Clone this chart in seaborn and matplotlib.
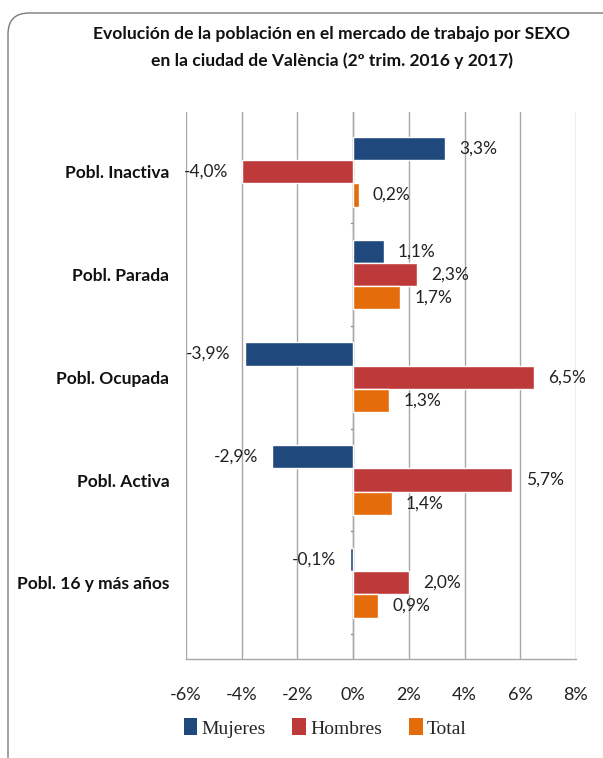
import matplotlib
matplotlib.use("Agg")
import matplotlib.pyplot as plt
import seaborn as sns
import pandas as pd
from matplotlib.patches import FancyBboxPatch, Patch

categories = ["Pobl. Inactiva", "Pobl. Parada", "Pobl. Ocupada", "Pobl. Activa", "Pobl. 16 y más años"]
series = ["Mujeres", "Hombres", "Total"]
mujeres = [3.3, 1.1, -3.9, -2.9, -0.1]
hombres = [-4.0, 2.3, 6.5, 5.7, 2.0]
total = [0.2, 1.7, 1.3, 1.4, 0.9]
xticks = [-6, -4, -2, 0, 2, 4, 6, 8]
colors = ["#1F497D", "#BE3A3A", "#E46C0A"]
title = "Evolución de la población en el mercado de trabajo por SEXO\nen la ciudad de València (2º trim. 2016 y 2017)"

rows = []
for name, vals in zip(series, [mujeres, hombres, total]):
    for c, v in zip(categories, vals):
        rows.append({"Categoria": c, "Serie": name, "Valor": v})
df = pd.DataFrame(rows)

sns.set_theme(style="white")
plt.rcParams["font.family"] = ["Lato", "DejaVu Sans"]

fig = plt.figure(figsize=(6.03, 7.58), dpi=100)

# rounded frame (extends past right and bottom edges as in the reference)
frame = FancyBboxPatch((8/603, -0.05), 1.1, 1 - 13/758 + 0.05,
                       boxstyle="round,pad=0,rounding_size=0.035",
                       transform=fig.transFigure, facecolor="white", edgecolor="#7a7a7a",
                       linewidth=1.0, zorder=-1, mutation_aspect=603/758)
fig.patches.append(frame)

ax = fig.add_axes([186/603, 1 - 659/758, 390/603, (659 - 112)/758])
ax.set_facecolor("none")

sns.barplot(data=df, y="Categoria", x="Valor", hue="Serie", hue_order=series,
            order=categories, palette=colors, orient="h", width=0.68,
            saturation=1, ax=ax, legend=False, errorbar=None)

ax.set_xlim(-6, 8)
ax.set_xticks(xticks)
ax.set_xticklabels([f"{t}%" for t in xticks], fontsize=13, color="#222222")
ax.set_ylabel("")
ax.set_xlabel("")
ax.set_yticks(range(len(categories)))
ax.set_yticklabels(categories, fontsize=12.5, fontweight="bold", color="#111111")
ax.tick_params(axis="y", length=0, pad=12)
ax.tick_params(axis="x", length=7, width=1, color="#A8A8A8", direction="out", pad=13)

ax.grid(axis="x", color="#A8A8A8", linewidth=1)
ax.set_axisbelow(True)
for s in ["top", "right", "left"]:
    ax.spines[s].set_visible(False)
ax.spines["bottom"].set_color("#A8A8A8")
ax.spines["bottom"].set_linewidth(1)
ax.axvline(0, color="#A8A8A8", linewidth=1, zorder=0.5)
for b in [0.5, 1.5, 2.5, 3.5, 4.5]:
    ax.plot([-0.08, 0], [b, b], color="#888888", linewidth=1, zorder=0.5, clip_on=False)

for cont in ax.containers:
    labels = [f"{v:.1f}%".replace(".", ",") for v in cont.datavalues]
    ax.bar_label(cont, labels=labels, padding=10, fontsize=12.5, color="#222222")

fig.text(0.550, 0.966, title, ha="center", va="top", fontsize=12.6, fontweight="bold",
         color="#111111", linespacing=1.75)

handles = [Patch(facecolor=c, edgecolor="none") for c in colors]
fig.legend(handles, series, loc="center left", bbox_to_anchor=(166/603, 1 - 728/758),
           ncol=3, frameon=False, handlelength=0.7, handleheight=0.95,
           handletextpad=0.2, columnspacing=1.4,
           prop={"family": ["Liberation Serif", "DejaVu Serif"], "size": 14})

fig.savefig("out.png", dpi=100)
